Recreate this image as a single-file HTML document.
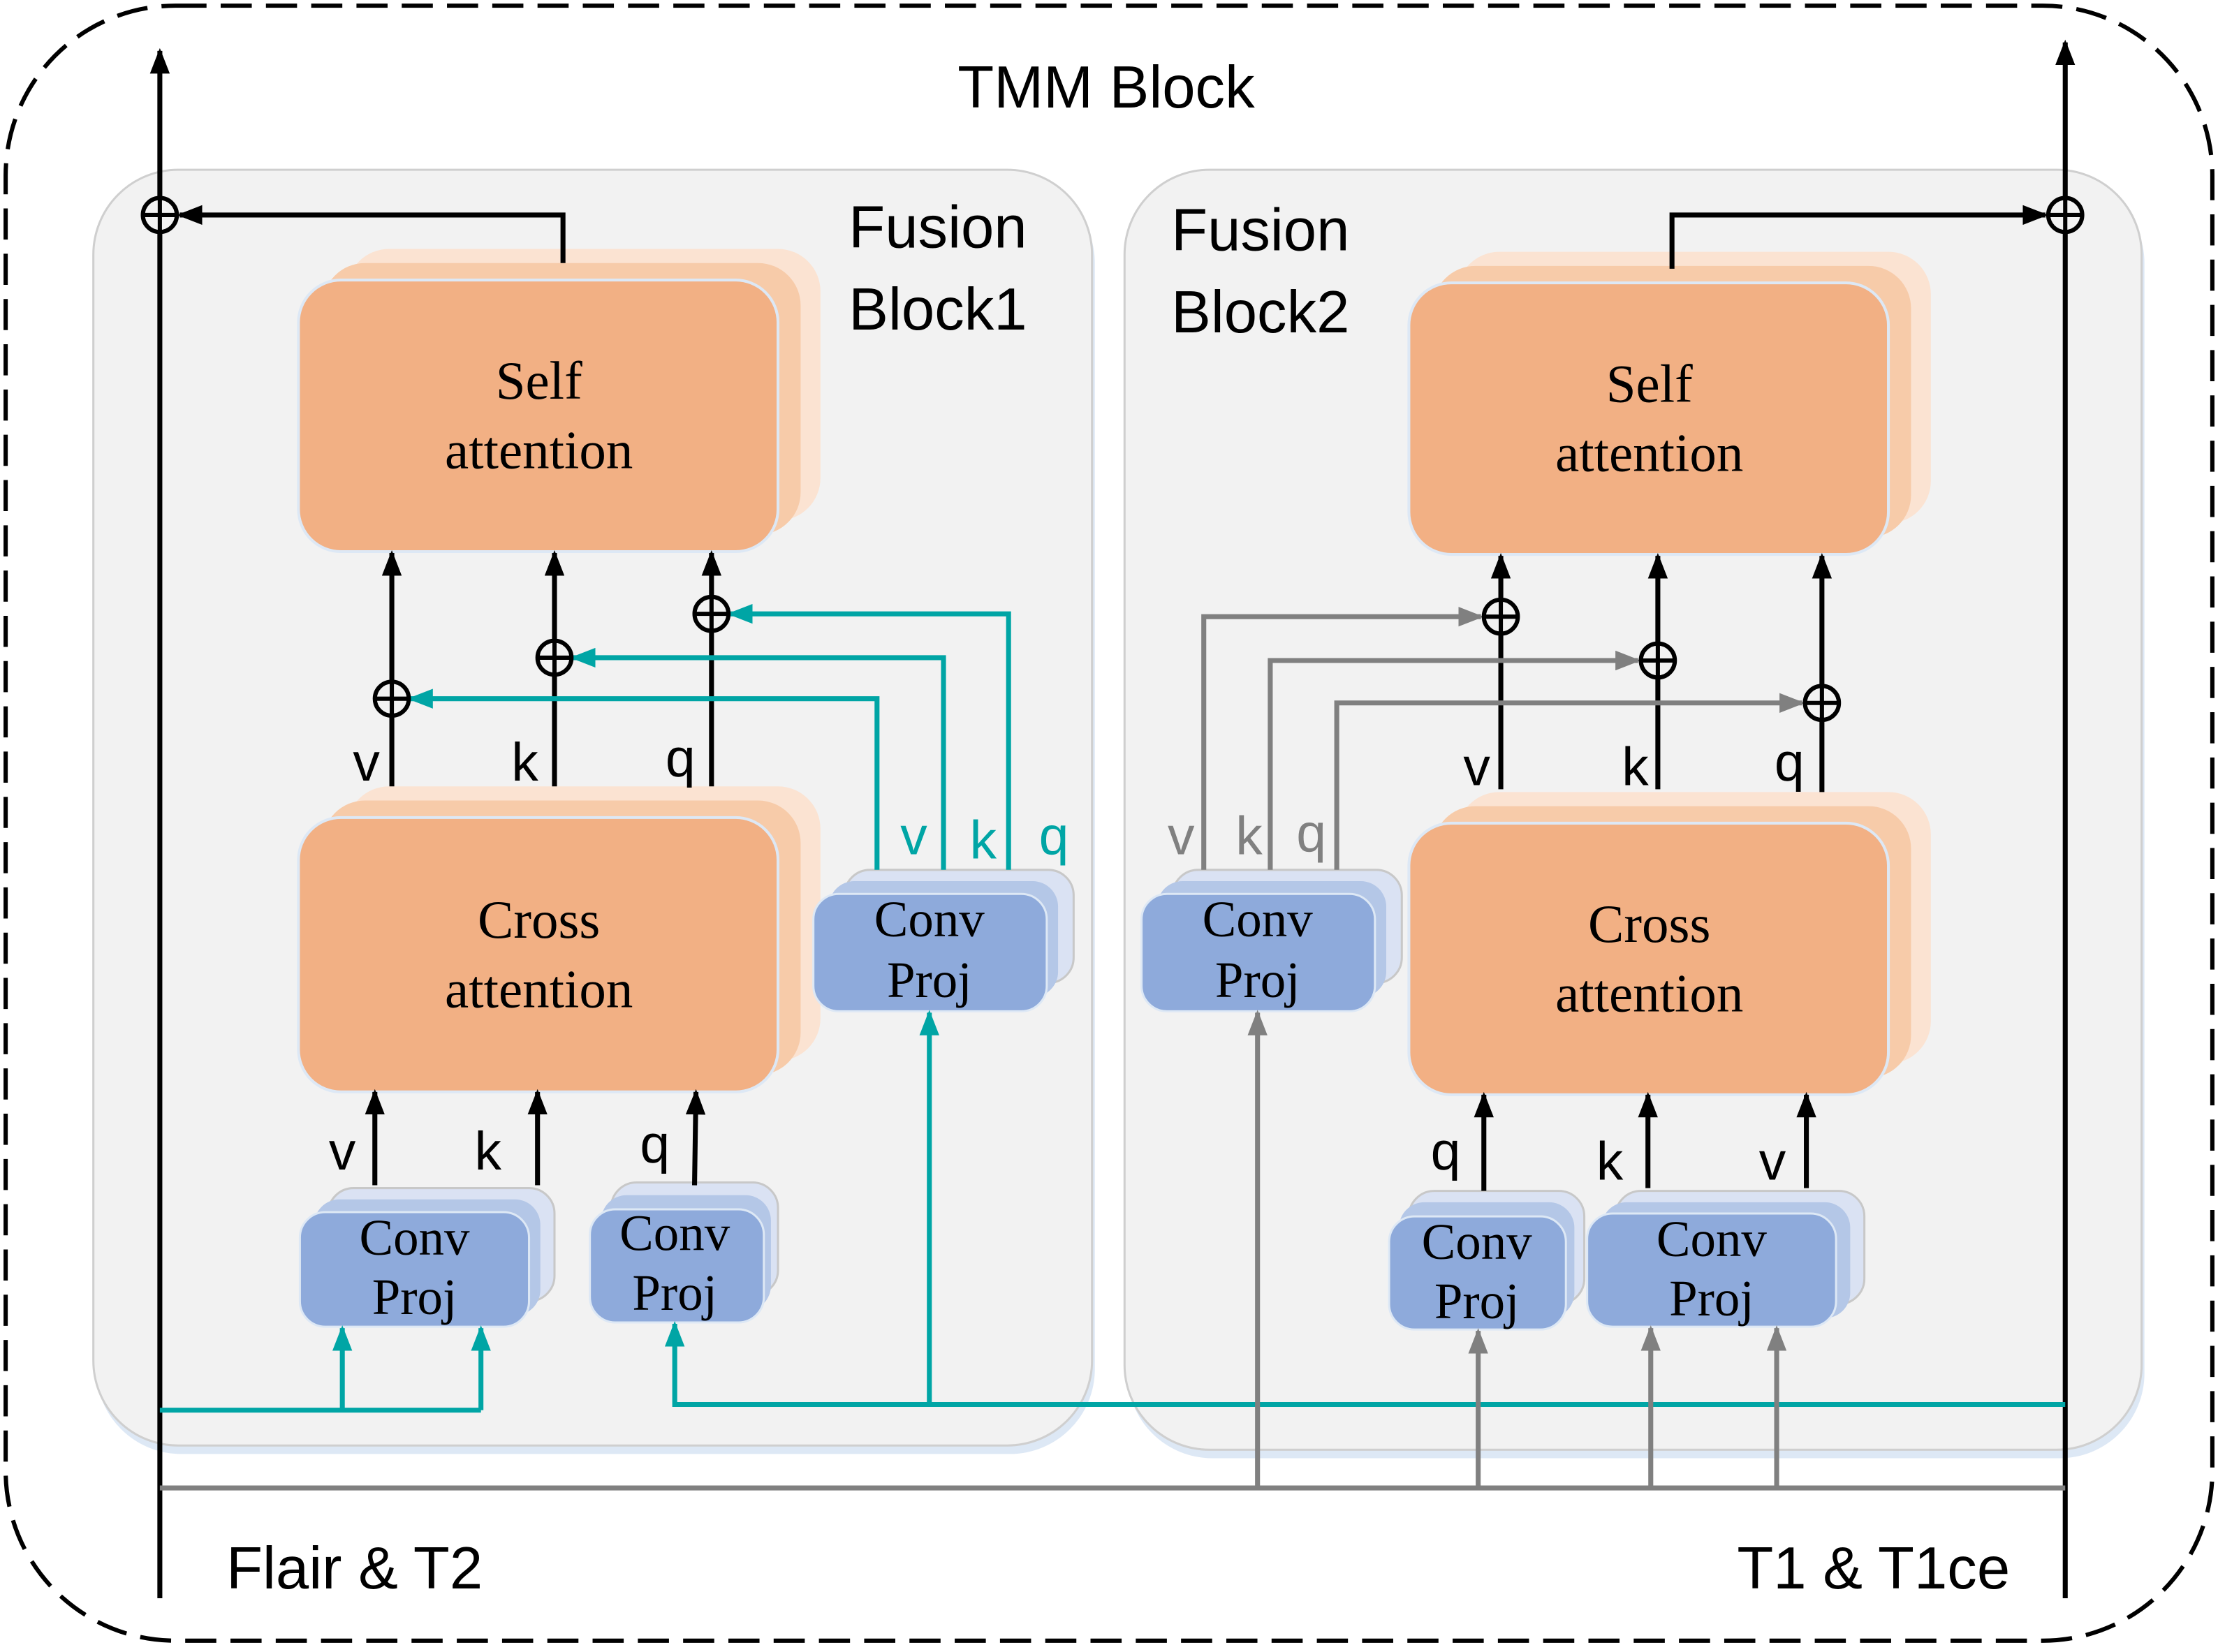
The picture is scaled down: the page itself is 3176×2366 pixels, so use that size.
<!DOCTYPE html>
<html><head><meta charset="utf-8"><style>html,body{margin:0;padding:0;background:#fff}svg{display:block}</style></head>
<body>
<svg width="3176" height="2366" viewBox="0 0 1568 1168" preserveAspectRatio="none" xmlns="http://www.w3.org/2000/svg">
<defs>
<marker id="ab" markerWidth="8" markerHeight="8" refX="7" refY="4" orient="auto" markerUnits="userSpaceOnUse" viewBox="0 0 8 8"><path d="M0,0 L8,4 L0,8 z" fill="#000"/></marker>
<marker id="at" markerWidth="18" markerHeight="14" refX="16" refY="7" orient="auto" markerUnits="userSpaceOnUse"><path d="M0,0 L18,7 L0,14 z" fill="#00a5a5"/></marker>
<marker id="ag" markerWidth="18" markerHeight="14" refX="16" refY="7" orient="auto" markerUnits="userSpaceOnUse"><path d="M0,0 L18,7 L0,14 z" fill="#808080"/></marker>
<marker id="ak" markerWidth="18" markerHeight="14" refX="16" refY="7" orient="auto" markerUnits="userSpaceOnUse"><path d="M0,0 L18,7 L0,14 z" fill="#000"/></marker>
</defs>
<rect x="4" y="4" width="1560" height="1156" rx="120" fill="none" stroke="#000" stroke-width="3" stroke-dasharray="22,10"/>
<text x="782" y="76" font-family="Liberation Sans, sans-serif" font-size="42" text-anchor="middle">TMM Block</text>
<!-- panels -->
<rect x="68" y="126" width="706" height="902" rx="60" fill="#dde8f5"/>
<rect x="66" y="120" width="706" height="902" rx="60" fill="#f2f2f2" stroke="#cfcfcf" stroke-width="1.5"/>
<rect x="797" y="126" width="719" height="905" rx="60" fill="#dde8f5"/>
<rect x="795" y="120" width="719" height="905" rx="60" fill="#f2f2f2" stroke="#cfcfcf" stroke-width="1.5"/>
<g font-family="Liberation Sans, sans-serif" font-size="42">
<text x="600" y="175">Fusion</text><text x="600" y="233">Block1</text>
<text x="828" y="177">Fusion</text><text x="828" y="235">Block2</text>
<text x="160" y="1123">Flair &amp; T2</text><text x="1228" y="1123">T1 &amp; T1ce</text>
</g>
<!-- orange boxes -->
<g>
<rect x="245" y="176" width="335" height="192" rx="30" fill="#fbe3d2"/><rect x="228" y="186" width="338" height="192" rx="30" fill="#f7cba9"/><rect x="211" y="198" width="339" height="192" rx="30" fill="#f2b084" stroke="#dde8f5" stroke-width="2"/>
<rect x="245" y="556" width="335" height="194" rx="30" fill="#fbe3d2"/><rect x="228" y="566" width="338" height="194" rx="30" fill="#f7cba9"/><rect x="211" y="578" width="339" height="194" rx="30" fill="#f2b084" stroke="#dde8f5" stroke-width="2"/>
<rect x="1030" y="178" width="335" height="192" rx="30" fill="#fbe3d2"/><rect x="1013" y="188" width="338" height="192" rx="30" fill="#f7cba9"/><rect x="996" y="200" width="339" height="192" rx="30" fill="#f2b084" stroke="#dde8f5" stroke-width="2"/>
<rect x="1030" y="560" width="335" height="192" rx="30" fill="#fbe3d2"/><rect x="1013" y="570" width="338" height="192" rx="30" fill="#f7cba9"/><rect x="996" y="582" width="339" height="192" rx="30" fill="#f2b084" stroke="#dde8f5" stroke-width="2"/>
</g>
<g font-family="Liberation Serif, serif" font-size="38" text-anchor="middle">
<text x="381" y="282">Self</text><text x="381" y="331">attention</text>
<text x="381" y="663">Cross</text><text x="381" y="712">attention</text>
<text x="1166" y="284">Self</text><text x="1166" y="333">attention</text>
<text x="1166" y="666">Cross</text><text x="1166" y="715">attention</text>
</g>
<!-- conv proj boxes -->
<g stroke="#c8c8c8" stroke-width="1.5">
<rect x="597" y="615" width="162" height="80" rx="18" fill="#dae2f3"/><rect x="586" y="623" width="162" height="82" rx="18" fill="#b4c7e7" stroke="none"/><rect x="575" y="632" width="165" height="83" rx="18" fill="#8eaadb" stroke="#dde8f5"/>
<rect x="829" y="615" width="162" height="80" rx="18" fill="#dae2f3"/><rect x="818" y="623" width="162" height="82" rx="18" fill="#b4c7e7" stroke="none"/><rect x="807" y="632" width="165" height="83" rx="18" fill="#8eaadb" stroke="#dde8f5"/>
<rect x="232" y="840" width="160" height="80" rx="18" fill="#dae2f3"/><rect x="222" y="848" width="160" height="82" rx="18" fill="#b4c7e7" stroke="none"/><rect x="212" y="857" width="162" height="81" rx="18" fill="#8eaadb" stroke="#dde8f5"/>
<rect x="432" y="836" width="118" height="80" rx="18" fill="#dae2f3"/><rect x="425" y="845" width="120" height="82" rx="18" fill="#b4c7e7" stroke="none"/><rect x="417" y="855" width="123" height="80" rx="18" fill="#8eaadb" stroke="#dde8f5"/>
<rect x="996" y="842" width="124" height="80" rx="18" fill="#dae2f3"/><rect x="989" y="850" width="124" height="82" rx="18" fill="#b4c7e7" stroke="none"/><rect x="982" y="860" width="125" height="80" rx="18" fill="#8eaadb" stroke="#dde8f5"/>
<rect x="1142" y="842" width="176" height="80" rx="18" fill="#dae2f3"/><rect x="1132" y="850" width="176" height="82" rx="18" fill="#b4c7e7" stroke="none"/><rect x="1122" y="858" width="176" height="80" rx="18" fill="#8eaadb" stroke="#dde8f5"/>
</g>
<g font-family="Liberation Serif, serif" font-size="36" text-anchor="middle">
<text x="657" y="662">Conv</text><text x="657" y="705">Proj</text>
<text x="889" y="662">Conv</text><text x="889" y="705">Proj</text>
<text x="293" y="887">Conv</text><text x="293" y="929">Proj</text>
<text x="477" y="884">Conv</text><text x="477" y="926">Proj</text>
<text x="1044" y="890">Conv</text><text x="1044" y="932">Proj</text>
<text x="1210" y="888">Conv</text><text x="1210" y="930">Proj</text>
</g>
<!-- main black lines -->
<g stroke="#000" stroke-width="3.5" fill="none">
<line x1="113" y1="1130" x2="113" y2="36" marker-end="url(#ak)"/>
<line x1="1460" y1="1130" x2="1460" y2="30" marker-end="url(#ak)"/>
<polyline points="398,186 398,152 127,152" marker-end="url(#ak)"/>
<polyline points="1182,190 1182,152 1446,152" marker-end="url(#ak)"/>
<line x1="277" y1="556" x2="277" y2="391" marker-end="url(#ak)"/>
<line x1="392" y1="556" x2="392" y2="391" marker-end="url(#ak)"/>
<line x1="503" y1="556" x2="503" y2="391" marker-end="url(#ak)"/>
<line x1="1061" y1="558" x2="1061" y2="393" marker-end="url(#ak)"/>
<line x1="1172" y1="558" x2="1172" y2="393" marker-end="url(#ak)"/>
<line x1="1288" y1="560" x2="1288" y2="393" marker-end="url(#ak)"/>
<line x1="265" y1="838" x2="265" y2="772" marker-end="url(#ak)"/>
<line x1="380" y1="838" x2="380" y2="772" marker-end="url(#ak)"/>
<line x1="491" y1="838" x2="492" y2="772" marker-end="url(#ak)"/>
<line x1="1049" y1="842" x2="1049" y2="774" marker-end="url(#ak)"/>
<line x1="1165" y1="840" x2="1165" y2="774" marker-end="url(#ak)"/>
<line x1="1277" y1="840" x2="1277" y2="774" marker-end="url(#ak)"/>
</g>
<!-- teal -->
<g stroke="#00a5a5" stroke-width="3.5" fill="none">
<polyline points="620,615 620,494 290,494" marker-end="url(#at)"/>
<polyline points="667,615 667,465 405,465" marker-end="url(#at)"/>
<polyline points="713,615 713,434 516,434" marker-end="url(#at)"/>
<line x1="657" y1="993" x2="657" y2="716" marker-end="url(#at)"/>
<polyline points="113,997 340,997"/>
<line x1="242" y1="997" x2="242" y2="939" marker-end="url(#at)"/>
<line x1="340" y1="997" x2="340" y2="939" marker-end="url(#at)"/>
<polyline points="1460,993 477,993 477,936" marker-end="url(#at)"/>
</g>
<!-- gray -->
<g stroke="#808080" stroke-width="3.5" fill="none">
<line x1="113" y1="1052" x2="1460" y2="1052"/>
<line x1="889" y1="1052" x2="889" y2="716" marker-end="url(#ag)"/>
<line x1="1045" y1="1052" x2="1045" y2="941" marker-end="url(#ag)"/>
<line x1="1167" y1="1052" x2="1167" y2="939" marker-end="url(#ag)"/>
<line x1="1256" y1="1052" x2="1256" y2="939" marker-end="url(#ag)"/>
<polyline points="851,615 851,436 1047,436" marker-end="url(#ag)"/>
<polyline points="898,615 898,467 1158,467" marker-end="url(#ag)"/>
<polyline points="945,615 945,497 1274,497" marker-end="url(#ag)"/>
</g>
<!-- circle plus -->
<g stroke="#000" stroke-width="3" fill="#f2f2f2">
<g transform="translate(113,152)"><circle r="12"/><path d="M-12,0H12M0,-12V12"/></g>
<g transform="translate(1460,152)"><circle r="12"/><path d="M-12,0H12M0,-12V12"/></g>
<g transform="translate(277,494)"><circle r="12"/><path d="M-12,0H12M0,-12V12"/></g>
<g transform="translate(392,465)"><circle r="12"/><path d="M-12,0H12M0,-12V12"/></g>
<g transform="translate(503,434)"><circle r="12"/><path d="M-12,0H12M0,-12V12"/></g>
<g transform="translate(1061,436)"><circle r="12"/><path d="M-12,0H12M0,-12V12"/></g>
<g transform="translate(1172,467)"><circle r="12"/><path d="M-12,0H12M0,-12V12"/></g>
<g transform="translate(1288,497)"><circle r="12"/><path d="M-12,0H12M0,-12V12"/></g>
</g>
<!-- labels -->
<g font-family="Liberation Sans, sans-serif" font-size="38" text-anchor="middle">
<text x="259" y="552">v</text><text x="371" y="552">k</text><text x="481" y="549">q</text>
<text x="1044" y="555">v</text><text x="1156" y="555">k</text><text x="1265" y="552">q</text>
<text x="242" y="827">v</text><text x="345" y="827">k</text><text x="463" y="822">q</text>
<text x="1022" y="827">q</text><text x="1138" y="834">k</text><text x="1253" y="834">v</text>
<g fill="#00a5a5"><text x="646" y="604">v</text><text x="695" y="607">k</text><text x="745" y="604">q</text></g>
<g fill="#808080"><text x="835" y="604">v</text><text x="883" y="604">k</text><text x="927" y="602">q</text></g>
</g>
</svg>
</body></html>
